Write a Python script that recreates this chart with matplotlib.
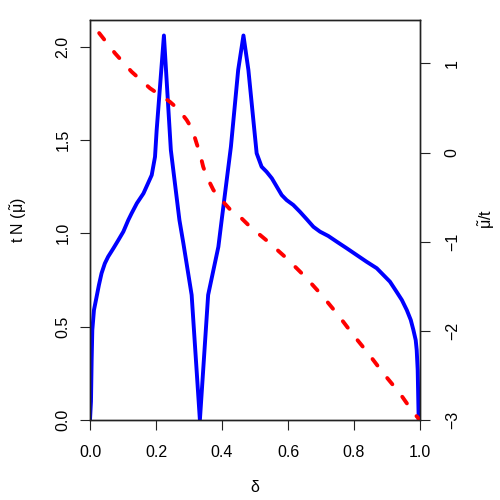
import matplotlib
matplotlib.use("Agg")
import matplotlib.pyplot as plt

plt.rcParams['font.family'] = ['Liberation Sans', 'DejaVu Sans']
plt.rcParams['mathtext.fontset'] = 'custom'
plt.rcParams['mathtext.rm'] = 'Liberation Sans'
plt.rcParams['mathtext.it'] = 'Liberation Sans:italic'
plt.rcParams['mathtext.sf'] = 'Liberation Sans'
plt.rcParams['lines.scale_dashes'] = False

# Density of states t*N(mu~) vs filling delta (left axis)
delta_n = [0.0, 0.003, 0.005, 0.007, 0.012, 0.020, 0.027, 0.035, 0.045, 0.055,
           0.071, 0.086, 0.101, 0.116, 0.126, 0.142, 0.162, 0.187, 0.197, 0.202,
           0.224, 0.245, 0.271, 0.283, 0.308, 0.333, 0.358, 0.389, 0.399, 0.427,
           0.449, 0.465, 0.480, 0.495, 0.505, 0.520, 0.535, 0.551, 0.566, 0.581,
           0.596, 0.616, 0.636, 0.657, 0.677, 0.697, 0.722, 0.748, 0.778, 0.808,
           0.838, 0.869, 0.889, 0.909, 0.929, 0.945, 0.960, 0.972, 0.980, 0.987,
           0.990, 0.993, 0.996]
n_vals = [0.0, 0.10, 0.321, 0.482, 0.589, 0.660, 0.723, 0.786, 0.839, 0.875,
          0.920, 0.964, 1.009, 1.071, 1.107, 1.161, 1.214, 1.312, 1.41, 1.553,
          2.06, 1.446, 1.071, 0.946, 0.67, 0.0, 0.67, 0.928, 1.071, 1.464,
          1.875, 2.06, 1.875, 1.607, 1.429, 1.357, 1.330, 1.295, 1.250, 1.205,
          1.178, 1.152, 1.116, 1.075, 1.035, 1.009, 0.986, 0.955, 0.920, 0.884,
          0.848, 0.813, 0.777, 0.741, 0.687, 0.643, 0.589, 0.536, 0.482, 0.428,
          0.375, 0.268, 0.0]

# Chemical potential mu~/t vs filling delta (right axis)
delta_mu = [0.0, 0.027, 0.076, 0.126, 0.182, 0.242, 0.268, 0.293, 0.310, 0.323,
            0.333, 0.343, 0.354, 0.374, 0.394, 0.424, 0.449, 0.485, 0.540, 0.596,
            0.652, 0.702, 0.752, 0.798, 0.843, 0.889, 0.939, 0.980, 1.0]
mu_vals = [1.486, 1.343, 1.112, 0.906, 0.720, 0.569, 0.484, 0.364, 0.260, 0.103,
           -0.009, -0.160, -0.272, -0.421, -0.514, -0.637, -0.701, -0.832, -1.001, -1.187,
           -1.393, -1.598, -1.823, -2.047, -2.252, -2.477, -2.701, -2.918, -3.0]

x_ticks = [0.0, 0.2, 0.4, 0.6, 0.8, 1.0]
x_ticklabels = ["0.0", "0.2", "0.4", "0.6", "0.8", "1.0"]
yl_ticks = [0.0, 0.5, 1.0, 1.5, 2.0]
yl_ticklabels = ["0.0", "0.5", "1.0", "1.5", "2.0"]
yr_ticks = [-3, -2, -1, 0, 1]
yr_ticklabels = ["\u22123", "\u22122", "\u22121", "0", "1"]

FS = 11.5

fig = plt.figure(figsize=(5, 5), dpi=100)
ax = fig.add_axes([0.18, 0.16, 0.66, 0.80])
ax2 = ax.twinx()

ax.plot(delta_n, n_vals, color='#0000ff', lw=2.8, solid_joinstyle='round',
        solid_capstyle='round')
ax2.plot(delta_mu, mu_vals, color='#ff0000', lw=2.8,
         linestyle=(5.8, (5.8, 11.5)), dash_capstyle='round',
         dash_joinstyle='round')

ax.set_xlim(0, 1)
ax.set_ylim(0, 2.143)
ax2.set_ylim(-3, 1.486)

ax.set_xticks(x_ticks)
ax.set_xticklabels(x_ticklabels)
ax.set_yticks(yl_ticks)
ax.set_yticklabels(yl_ticklabels)
ax2.set_yticks(yr_ticks)
ax2.set_yticklabels(yr_ticklabels)

for a in (ax, ax2):
    for s in a.spines.values():
        s.set_linewidth(1.0)
        s.set_color('#222222')

ax.tick_params(axis='x', direction='out', length=7.3, width=0.8, pad=10.6,
               labelsize=FS, color='#222222')
ax.tick_params(axis='y', direction='out', length=7.5, width=0.8, pad=6.4,
               labelsize=FS, labelrotation=90, color='#222222')
ax2.tick_params(axis='y', direction='out', length=7.3, width=0.8, pad=10.6,
                labelsize=FS, labelrotation=90, color='#222222')
for lab in ax.get_yticklabels() + ax2.get_yticklabels():
    lab.set_verticalalignment('center')

fig.text(0.038, 0.56, r'$\mathrm{t\ N\ (\tilde{\mu})}$', rotation=90,
         ha='center', va='center', fontsize=FS)
fig.text(0.974, 0.562, r'$\mathrm{\tilde{\mu}/t}$', rotation=90,
         ha='center', va='center', fontsize=FS)
fig.text(0.51, 0.024, '\u03b4', ha='center', va='center', fontsize=FS)

fig.savefig('out.png', dpi=100)
